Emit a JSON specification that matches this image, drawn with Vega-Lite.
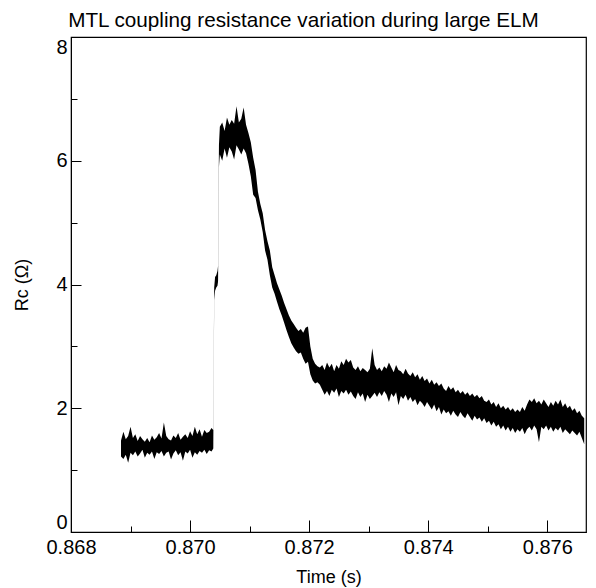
{
  "$schema": "https://vega.github.io/schema/vega-lite/v6.json",
  "width": 515,
  "height": 495,
  "autosize": {"type": "none"},
  "padding": {"left": 71, "top": 37, "right": 10, "bottom": 56},
  "background": "white",
  "config": {"view": {"stroke": "black", "strokeWidth": 1.2}, "font": "Liberation Sans"},
  "title": {"text": "MTL coupling resistance variation during large ELM", "fontSize": 20.7, "fontWeight": "normal", "color": "black", "anchor": "middle", "dx": -25, "offset": 5},
  "data": {"values": [
    {"t":0.86884,"lo":1.22,"hi":1.48},{"t":0.86888,"lo":1.18,"hi":1.62},{"t":0.86892,"lo":1.25,"hi":1.50},{"t":0.86896,"lo":1.12,"hi":1.55},
    {"t":0.86900,"lo":1.28,"hi":1.70},{"t":0.86904,"lo":1.24,"hi":1.52},{"t":0.86908,"lo":1.30,"hi":1.58},{"t":0.86912,"lo":1.22,"hi":1.47},
    {"t":0.86916,"lo":1.27,"hi":1.55},{"t":0.86920,"lo":1.33,"hi":1.50},{"t":0.86924,"lo":1.20,"hi":1.46},{"t":0.86928,"lo":1.28,"hi":1.52},
    {"t":0.86932,"lo":1.25,"hi":1.45},{"t":0.86936,"lo":1.30,"hi":1.56},{"t":0.86940,"lo":1.18,"hi":1.49},{"t":0.86944,"lo":1.29,"hi":1.53},
    {"t":0.86948,"lo":1.26,"hi":1.60},{"t":0.86952,"lo":1.31,"hi":1.51},{"t":0.86956,"lo":1.22,"hi":1.77},{"t":0.86960,"lo":1.28,"hi":1.55},
    {"t":0.86964,"lo":1.30,"hi":1.50},{"t":0.86968,"lo":1.17,"hi":1.48},{"t":0.86972,"lo":1.27,"hi":1.56},{"t":0.86976,"lo":1.32,"hi":1.52},
    {"t":0.86980,"lo":1.24,"hi":1.60},{"t":0.86984,"lo":1.29,"hi":1.49},{"t":0.86988,"lo":1.15,"hi":1.54},{"t":0.86992,"lo":1.30,"hi":1.58},
    {"t":0.86996,"lo":1.27,"hi":1.52},{"t":0.87000,"lo":1.33,"hi":1.63},{"t":0.87004,"lo":1.20,"hi":1.55},{"t":0.87008,"lo":1.29,"hi":1.70},
    {"t":0.87012,"lo":1.25,"hi":1.58},{"t":0.87016,"lo":1.31,"hi":1.66},{"t":0.87020,"lo":1.28,"hi":1.54},{"t":0.87024,"lo":1.33,"hi":1.65},
    {"t":0.87028,"lo":1.26,"hi":1.60},{"t":0.87032,"lo":1.32,"hi":1.62},{"t":0.87036,"lo":1.30,"hi":1.68},
    {"t":0.87039,"lo":1.35,"hi":1.65},{"t":0.870405,"lo":3.75,"hi":3.95},{"t":0.87042,"lo":3.90,"hi":4.12},{"t":0.87044,"lo":3.95,"hi":4.15},
    {"t":0.87046,"lo":3.98,"hi":4.22},{"t":0.87047,"lo":4.05,"hi":4.30},{"t":0.870485,"lo":5.90,"hi":6.25},
    {"t":0.87050,"lo":6.10,"hi":6.55},{"t":0.87054,"lo":6.00,"hi":6.62},{"t":0.87058,"lo":6.20,"hi":6.48},{"t":0.87062,"lo":6.05,"hi":6.70},
    {"t":0.87066,"lo":6.22,"hi":6.58},{"t":0.87070,"lo":6.15,"hi":6.66},{"t":0.87074,"lo":6.02,"hi":6.60},{"t":0.87078,"lo":6.25,"hi":6.88},
    {"t":0.87082,"lo":6.18,"hi":6.62},{"t":0.87086,"lo":6.10,"hi":6.68},{"t":0.87090,"lo":6.20,"hi":6.86},{"t":0.87094,"lo":6.12,"hi":6.58},
    {"t":0.87098,"lo":5.95,"hi":6.45},
    {"t":0.87102,"lo":5.75,"hi":6.30},{"t":0.87106,"lo":5.45,"hi":6.05},{"t":0.87110,"lo":5.40,"hi":5.85},{"t":0.87114,"lo":5.20,"hi":5.50},
    {"t":0.87118,"lo":5.05,"hi":5.30},{"t":0.87122,"lo":4.85,"hi":5.15},{"t":0.87126,"lo":4.55,"hi":4.88},{"t":0.87130,"lo":4.40,"hi":4.70},
    {"t":0.87134,"lo":4.15,"hi":4.55},{"t":0.87138,"lo":3.95,"hi":4.28},{"t":0.87142,"lo":3.85,"hi":4.15},{"t":0.87146,"lo":3.72,"hi":4.02},
    {"t":0.87150,"lo":3.60,"hi":3.92},{"t":0.87154,"lo":3.50,"hi":3.82},{"t":0.87158,"lo":3.38,"hi":3.70},{"t":0.87162,"lo":3.26,"hi":3.60},
    {"t":0.87166,"lo":3.15,"hi":3.50},{"t":0.87170,"lo":3.05,"hi":3.42},{"t":0.87174,"lo":2.98,"hi":3.36},{"t":0.87178,"lo":2.92,"hi":3.30},
    {"t":0.87182,"lo":2.88,"hi":3.25},{"t":0.87186,"lo":2.90,"hi":3.28},{"t":0.87190,"lo":2.80,"hi":3.22},{"t":0.87194,"lo":2.72,"hi":3.30},
    {"t":0.87198,"lo":2.75,"hi":3.32},{"t":0.87202,"lo":2.55,"hi":3.00},{"t":0.87206,"lo":2.45,"hi":2.80},{"t":0.87210,"lo":2.40,"hi":2.72},
    {"t":0.87214,"lo":2.42,"hi":2.68},{"t":0.87218,"lo":2.38,"hi":2.66},
    {"t":0.87222,"lo":2.30,"hi":2.70},{"t":0.87226,"lo":2.22,"hi":2.62},{"t":0.87230,"lo":2.28,"hi":2.74},{"t":0.87234,"lo":2.20,"hi":2.66},
    {"t":0.87238,"lo":2.30,"hi":2.72},{"t":0.87242,"lo":2.25,"hi":2.60},{"t":0.87246,"lo":2.32,"hi":2.70},{"t":0.87250,"lo":2.18,"hi":2.64},
    {"t":0.87254,"lo":2.28,"hi":2.76},{"t":0.87258,"lo":2.24,"hi":2.70},{"t":0.87262,"lo":2.30,"hi":2.80},{"t":0.87266,"lo":2.22,"hi":2.74},
    {"t":0.87270,"lo":2.27,"hi":2.78},{"t":0.87274,"lo":2.20,"hi":2.66},{"t":0.87278,"lo":2.15,"hi":2.62},{"t":0.87282,"lo":2.26,"hi":2.68},
    {"t":0.87286,"lo":2.18,"hi":2.60},{"t":0.87290,"lo":2.24,"hi":2.65},{"t":0.87294,"lo":2.10,"hi":2.62},{"t":0.87298,"lo":2.22,"hi":2.58},
    {"t":0.87302,"lo":2.15,"hi":2.64},{"t":0.87306,"lo":2.20,"hi":2.97},{"t":0.87310,"lo":2.25,"hi":2.70},{"t":0.87314,"lo":2.18,"hi":2.62},
    {"t":0.87318,"lo":2.26,"hi":2.66},{"t":0.87322,"lo":2.20,"hi":2.60},{"t":0.87326,"lo":2.28,"hi":2.68},{"t":0.87330,"lo":2.22,"hi":2.64},
    {"t":0.87334,"lo":2.10,"hi":2.74},{"t":0.87338,"lo":2.24,"hi":2.66},{"t":0.87342,"lo":2.18,"hi":2.58},{"t":0.87346,"lo":2.26,"hi":2.70},
    {"t":0.87350,"lo":2.05,"hi":2.62},{"t":0.87354,"lo":2.20,"hi":2.60},{"t":0.87358,"lo":2.15,"hi":2.55},{"t":0.87362,"lo":2.22,"hi":2.64},
    {"t":0.87366,"lo":2.12,"hi":2.56},{"t":0.87370,"lo":2.18,"hi":2.52},{"t":0.87374,"lo":2.10,"hi":2.58},{"t":0.87378,"lo":2.15,"hi":2.50},
    {"t":0.87382,"lo":2.05,"hi":2.55},{"t":0.87386,"lo":2.12,"hi":2.46},{"t":0.87390,"lo":2.08,"hi":2.52},{"t":0.87394,"lo":2.02,"hi":2.44},
    {"t":0.87398,"lo":2.10,"hi":2.48},{"t":0.87402,"lo":2.04,"hi":2.40},{"t":0.87406,"lo":1.98,"hi":2.46},{"t":0.87410,"lo":2.06,"hi":2.38},
    {"t":0.87414,"lo":1.95,"hi":2.42},{"t":0.87418,"lo":2.02,"hi":2.36},{"t":0.87422,"lo":1.90,"hi":2.40},{"t":0.87426,"lo":1.98,"hi":2.32},
    {"t":0.87430,"lo":1.92,"hi":2.28},{"t":0.87434,"lo":1.95,"hi":2.36},{"t":0.87438,"lo":1.88,"hi":2.30},{"t":0.87442,"lo":1.96,"hi":2.34},
    {"t":0.87446,"lo":1.90,"hi":2.26},{"t":0.87450,"lo":1.86,"hi":2.30},{"t":0.87454,"lo":1.94,"hi":2.24},{"t":0.87458,"lo":1.88,"hi":2.28},
    {"t":0.87462,"lo":1.84,"hi":2.22},{"t":0.87466,"lo":1.92,"hi":2.26},{"t":0.87470,"lo":1.86,"hi":2.20},{"t":0.87474,"lo":1.80,"hi":2.24},
    {"t":0.87478,"lo":1.88,"hi":2.18},{"t":0.87482,"lo":1.82,"hi":2.22},{"t":0.87486,"lo":1.85,"hi":2.16},{"t":0.87490,"lo":1.78,"hi":2.20},
    {"t":0.87494,"lo":1.84,"hi":2.12},{"t":0.87498,"lo":1.76,"hi":2.10},{"t":0.87502,"lo":1.80,"hi":2.14},{"t":0.87506,"lo":1.72,"hi":2.06},
    {"t":0.87510,"lo":1.78,"hi":2.10},{"t":0.87514,"lo":1.70,"hi":2.02},{"t":0.87518,"lo":1.74,"hi":2.08},{"t":0.87522,"lo":1.66,"hi":2.00},
    {"t":0.87526,"lo":1.72,"hi":2.04},{"t":0.87530,"lo":1.64,"hi":1.98},{"t":0.87534,"lo":1.70,"hi":2.02},{"t":0.87538,"lo":1.62,"hi":1.96},
    {"t":0.87542,"lo":1.68,"hi":2.00},{"t":0.87546,"lo":1.60,"hi":1.94},{"t":0.87550,"lo":1.66,"hi":1.98},{"t":0.87554,"lo":1.62,"hi":1.94},
    {"t":0.87558,"lo":1.68,"hi":2.02},{"t":0.87562,"lo":1.58,"hi":1.96},{"t":0.87566,"lo":1.66,"hi":2.06},{"t":0.87570,"lo":1.70,"hi":2.14},
    {"t":0.87574,"lo":1.64,"hi":2.10},{"t":0.87578,"lo":1.72,"hi":2.16},{"t":0.87582,"lo":1.66,"hi":2.08},{"t":0.87586,"lo":1.45,"hi":2.12},
    {"t":0.87590,"lo":1.70,"hi":2.06},{"t":0.87594,"lo":1.66,"hi":2.14},{"t":0.87598,"lo":1.72,"hi":2.08},{"t":0.87602,"lo":1.64,"hi":2.02},
    {"t":0.87606,"lo":1.70,"hi":2.10},{"t":0.87610,"lo":1.62,"hi":2.04},{"t":0.87614,"lo":1.68,"hi":2.12},{"t":0.87618,"lo":1.64,"hi":2.06},
    {"t":0.87622,"lo":1.70,"hi":2.14},{"t":0.87626,"lo":1.60,"hi":2.02},{"t":0.87630,"lo":1.66,"hi":2.08},{"t":0.87634,"lo":1.62,"hi":2.00},
    {"t":0.87638,"lo":1.58,"hi":2.04},{"t":0.87642,"lo":1.64,"hi":1.96},{"t":0.87646,"lo":1.60,"hi":2.00},{"t":0.87650,"lo":1.56,"hi":1.92},
    {"t":0.87654,"lo":1.62,"hi":1.96},{"t":0.87658,"lo":1.52,"hi":1.88},{"t":0.87662,"lo":1.42,"hi":1.84}
  ]},
  "layer": [
    {
      "mark": {"type": "area", "color": "black", "clip": true},
      "encoding": {
        "x": {"field": "t", "type": "quantitative", "scale": {"domain": [0.868, 0.87665], "nice": false, "zero": false},
          "axis": {"orient": "bottom", "values": [0.868, 0.870, 0.872, 0.874, 0.876], "format": ".3f", "grid": false, "tickSize": -12, "tickColor": "black", "domainColor": "black", "labelFontSize": 20, "labelColor": "black", "labelPadding": 17, "labelFlush": false, "labelOverlap": false, "title": "Time (s)", "titleFontSize": 18, "titleFontWeight": "normal", "titleColor": "black", "titlePadding": 11}},
        "y": {"field": "lo", "type": "quantitative", "scale": {"domain": [0, 8], "nice": false, "zero": false},
          "axis": {"orient": "left", "values": [0, 2, 4, 6, 8], "grid": false, "tickSize": -10, "tickColor": "black", "domainColor": "black", "labelFontSize": 20, "labelColor": "black", "labelPadding": 14, "labelFlush": true, "labelOverlap": false, "title": "Rᴄ (Ω)", "titleFontSize": 18, "titleFontWeight": "normal", "titleColor": "black", "titlePadding": 24}},
        "y2": {"field": "hi"}
      }
    },
    {
      "mark": {"type": "area", "color": "black", "opacity": 0, "clip": true},
      "encoding": {
        "x": {"field": "t", "type": "quantitative",
          "axis": {"orient": "bottom", "values": [0.869, 0.871, 0.873, 0.875], "labels": false, "domain": false, "grid": false, "tickSize": -6, "tickColor": "black", "title": null}},
        "y": {"field": "lo", "type": "quantitative",
          "axis": {"orient": "left", "values": [1, 3, 5, 7], "labels": false, "domain": false, "grid": false, "tickSize": -6, "tickColor": "black", "title": null}},
        "y2": {"field": "hi"}
      }
    }
  ],
  "resolve": {"axis": {"x": "independent", "y": "independent"}}
}
